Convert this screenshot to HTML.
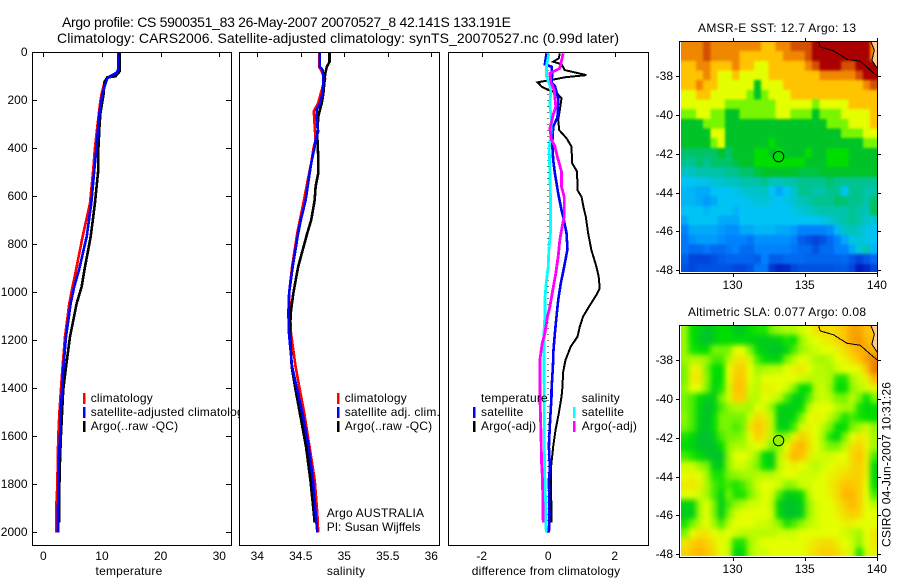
<!DOCTYPE html>
<html lang="en">
<head>
<meta charset="utf-8">
<title>Argo profile CS 5900351_83</title>
<style>
html,body{margin:0;padding:0;background:#fff;width:900px;height:580px;overflow:hidden}
svg{display:block}
text{font-family:"Liberation Sans",sans-serif;font-size:12px;fill:#000}
.frame{fill:none;stroke:#000;stroke-width:1;shape-rendering:crispEdges}
.bg{fill:#fff;stroke:none}
.tick{stroke:#000;stroke-width:1;shape-rendering:crispEdges}
.series{fill:none;shape-rendering:crispEdges;stroke-linejoin:miter}
.legend-text{letter-spacing:.2px}
</style>
</head>
<body>
<svg id="figure" xmlns="http://www.w3.org/2000/svg" width="900" height="580" viewBox="0 0 900 580">
<defs>
<filter id="soft-sst" filterUnits="userSpaceOnUse" x="670" y="30" width="220" height="530" color-interpolation-filters="sRGB">
<feGaussianBlur stdDeviation="1.3"/>
<feComponentTransfer><feFuncA type="linear" slope="30"/></feComponentTransfer>
</filter>
<filter id="soft-sla" filterUnits="userSpaceOnUse" x="670" y="315" width="220" height="255" color-interpolation-filters="sRGB">
<feGaussianBlur stdDeviation="2.6"/>
<feComponentTransfer><feFuncA type="linear" slope="30"/></feComponentTransfer>
</filter>
<clipPath id="clip-sst"><rect x="681" y="42" width="196" height="230"/></clipPath>
<clipPath id="clip-sla"><rect x="681" y="326" width="196" height="230"/></clipPath>
</defs>
<rect class="bg" width="900" height="580"/>
<text x="62" y="27" style="font-size:14px" textLength="449">Argo profile: CS 5900351_83 26-May-2007 20070527_8 42.141S 133.191E</text>
<text x="57" y="43" style="font-size:14px" textLength="562">Climatology: CARS2006. Satellite-adjusted climatology: synTS_20070527.nc (0.99d later)</text>
<g id="panel-temp"></g>
<g id="panel-sal"></g>
<g id="panel-diff"></g>
<g id="map-sst"></g>
<g id="map-sla"></g>
<text transform="translate(890.5,547) rotate(-90)" textLength="165">CSIRO 04-Jun-2007 10:31:26</text>
</svg>
<script>
// ---------- Tick labels ----------
var depthTicks = [0,200,400,600,800,1000,1200,1400,1600,1800,2000];
var tempTicks = [0,10,20,30];
var salTicks = [34,34.5,35,35.5,36];
var diffTicks = [-2,0,2];
var lonTicks = [130,135,140];
var latTicks = [-38,-40,-42,-44,-46,-48];

// ---------- Temperature panel series ----------
var tempClimDepth = [0,70,85,100,110,130,170,200,250,300,400,490,629,768,907,976,1046,1185,1324,1407,1500,1600,1700,1800,1900,2000];
var tempClimValues = [13,13,12.7,11.3,10.8,10.4,9.95,9.75,9.5,9.25,8.8,8.5,7.96,6.7,5.57,5.0,4.43,3.7,3.24,3.0,2.75,2.55,2.45,2.4,2.2,2.2];
var tempSatDepth = [0,70,85,100,110,130,170,200,250,300,400,490,629,768,907,976,1046,1185,1324,1407,1500,1600,1700,1800,1900,2000];
var tempSatValues = [12.8,12.8,12.5,11.4,10.9,10.6,10.1,9.9,9.6,9.4,9.05,8.7,8.18,7.4,6.08,5.29,4.67,3.87,3.4,3.2,2.95,2.85,2.65,2.55,2.5,2.5];
var tempArgoDepth = [0,80,100,105,125,170,200,250,300,400,490,629,768,907,976,1046,1185,1324,1407,1500,1600,1700,1800,1900,1960];
var tempArgoValues = [13,13,12.3,10.9,10.4,10.3,10.1,9.75,9.6,9.4,9.38,8.8,8.08,7.0,6.54,5.7,4.55,3.8,3.4,3.2,3.0,2.85,2.75,2.7,2.7];

// ---------- Salinity panel series ----------
var salClimDepth = [0,60,80,110,170,212,245,310,365,393,462,532,615,699,753,893,1004,1087,1171,1310,1407,1504,1643,1782,1921,2000];
var salClimValues = [34.71,34.71,34.74,34.78,34.73,34.7,34.65,34.66,34.67,34.65,34.62,34.58,34.537,34.49,34.46,34.4,34.365,34.376,34.387,34.44,34.49,34.54,34.6,34.66,34.69,34.7];
var salSatDepth = [0,60,74,110,170,212,240,310,330,365,393,462,532,615,699,753,893,1004,1087,1171,1310,1407,1504,1643,1782,1921,2000];
var salSatValues = [34.72,34.72,34.75,34.76,34.75,34.72,34.68,34.69,34.7,34.67,34.66,34.62,34.59,34.556,34.5,34.47,34.407,34.365,34.357,34.364,34.4,34.46,34.52,34.59,34.64,34.67,34.69];
var salArgoDepth = [0,40,60,88,130,170,212,268,352,435,505,560,615,699,753,893,1004,1087,1171,1310,1407,1504,1643,1782,1921,1960];
var salArgoValues = [34.83,34.83,34.8,34.78,34.77,34.76,34.74,34.7,34.69,34.7,34.7,34.67,34.66,34.62,34.575,34.47,34.414,34.384,34.376,34.395,34.44,34.49,34.56,34.61,34.65,34.66];

// ---------- Difference panel series ----------
var diffTempArgoDepth = [4,25,39,50,74,95,104,115,125,143,157,168,192,240,282,324,358,393,462,497,574,602,657,685,753,824,893,935,983,1011,1066,1101,1143,1185,1226,1282,1331,1407,1435,1504,1574,1643,1733,1960];
var diffTempArgoValues = [0.35,0.32,0.15,0.4,0.5,1.15,0.5,0.1,-0.32,-0.2,0,0.25,0.4,0.35,0.3,0.33,0.55,0.7,0.72,0.87,0.88,1.0,1.08,1.13,1.2,1.3,1.45,1.52,1.55,1.45,1.2,1.05,0.95,0.88,0.68,0.52,0.45,0.42,0.4,0.32,0.22,0.15,0.08,0.1];
var diffTempSatDepth = [4,50,60,95,125,140,192,270,310,380,450,504,588,657,685,753,820,893,962,1032,1101,1170,1240,1310,1407,1435,1550,1643,1733,1782,1921,2000];
var diffTempSatValues = [-0.05,-0.1,0.1,0.12,0.1,0.2,0.3,0.28,0.15,0.12,0.15,0.2,0.3,0.4,0.45,0.55,0.58,0.48,0.38,0.3,0.25,0.2,0.16,0.14,0.1,0.1,0.05,0.02,0.05,0.02,0.04,0.02];
var diffSalSatDepth = [4,55,100,150,220,290,340,400,504,615,685,753,820,893,962,1032,1101,1170,1240,1407,1504,1643,1782,1921,2000];
var diffSalSatValues = [0.02,-0.05,-0.05,0.08,0.05,0.1,0.08,0.03,0.05,0.07,0.07,0.07,0.02,0,-0.06,-0.1,-0.1,-0.13,-0.13,-0.12,-0.12,-0.12,-0.1,-0.07,-0.06];
var diffSalArgoDepth = [4,67,87,125,157,226,260,316,365,393,448,497,560,602,685,725,782,851,921,1004,1060,1101,1170,1212,1282,1407,1435,1574,1713,1782,1960];
var diffSalArgoValues = [0.45,0.35,0.05,0.08,0.18,0.23,0.15,0.05,0.1,0.2,0.3,0.4,0.4,0.48,0.48,0.42,0.35,0.3,0.23,0.12,0.05,-0.02,-0.1,-0.18,-0.25,-0.25,-0.25,-0.22,-0.2,-0.17,-0.15];

// ---------- Map grids: colour-scale index per grid cell, north to south ----------
var sstGrid = [
[9,9,9,10,9,9,9,9,9,9,9,8,8,9,9,10,10,10,11,11,11,11,11,11,11,11,9],
[9,9,9,10,9,9,9,9,8,8,8,8,8,8,9,9,9,10,11,11,11,11,11,11,11,11,9],
[8,8,9,9,8,8,8,9,8,8,7,7,8,8,8,8,8,9,10,11,11,11,10,10,11,11,11],
[8,8,8,9,8,7,7,8,7,7,7,7,8,8,8,8,8,8,8,9,9,9,9,9,10,11,11],
[8,8,9,8,8,7,7,7,7,7,5,7,7,7,8,8,8,8,8,8,8,8,8,8,8,9,10],
[7,7,8,8,7,7,7,7,7,6,5,6,7,7,7,8,8,8,8,8,8,8,8,8,8,8,8],
[7,7,7,7,7,7,6,6,6,6,6,6,6,7,7,7,7,7,6,7,7,7,7,8,8,8,8],
[6,6,7,7,6,6,5,5,6,6,6,6,6,7,7,6,6,6,5,6,6,6,7,7,7,7,8],
[5,5,5,6,6,6,5,5,5,5,5,5,5,5,5,5,5,5,5,5,6,6,6,7,7,7,8],
[5,5,5,5,7,7,5,5,5,5,5,5,5,5,5,5,5,5,5,5,5,5,6,6,6,7,7],
[5,5,5,5,6,7,5,5,5,5,5,5,5.5,5,5,5,5,5,5,5,5,5,5,5,5,6,6],
[4.5,4.5,4.5,4.5,4.5,5,4.5,5,5,5,5.5,5.5,5,5.5,5,5,5,5.5,5,5,5.5,5.5,5.5,5,5,5,5],
[4.2,4.2,4.5,4.2,4.5,4.5,4.5,4.8,5,5,5.5,5.5,5.5,5.5,5.5,5.5,5.5,5,5,5,5.5,5.5,5.5,5,5,5,5],
[3.7,3.7,4,4,4,4,4.2,4.2,4.5,4.5,4.8,5,5,5,5,5,4.8,4.8,4.8,5,5,5,5,5,5,5,5],
[3,3,3.2,3.2,3.5,3.5,3.7,3.7,4,4,4,4.2,3.8,3.8,4,4,4.2,4.2,4.2,4.2,4.5,4.2,4.2,4.2,4.2,4.2,4.2],
[2.8,2.8,2.6,2.6,3,3,3,3.2,3.4,3.6,3.6,3.6,3,2.6,3,3.5,4.2,4.2,4,4,4.2,4.2,3,4.2,4.2,4,4],
[2.8,2.8,2.6,2.4,2.6,3,3,3,3,3.2,3.4,3.4,3.2,3,3.2,3.5,3.8,4,4.2,4.2,4.2,4.5,4.4,4.2,4.2,4,4.5],
[3,3,3,2.8,3,3,3,2.8,3,3,3,3,3,3,3,3.2,3.4,3.6,3.8,4,4,4,4,4.2,4,3.8,4.6],
[2.6,3,3,3,3,2.6,2.6,2.6,3,3,3,3,3,3,3,3,3,3,3,3.2,3.4,3.8,4,4.2,4,3.6,3.4],
[2,2.6,2.6,2.6,2.6,2.4,2.2,2.2,2.6,2.6,2.8,2.8,2.8,2.6,2.6,2.4,2,2,2,2,2.2,2.8,3.6,3.8,3.6,3.2,3],
[1.8,2.2,2.4,2.4,2.4,2.2,2,2,2,1.8,2.2,2.2,2.2,2.2,2.2,2,1.4,1.2,1,1.2,1.6,2,2.6,3.2,3.4,3.2,3],
[1.8,1.6,1.6,1.8,1.6,1.6,1.8,2,1.6,1.6,2,2,2,2,2,1.8,1.6,1.6,1.2,1.6,1.6,2,2,2.6,3.4,3.8,2.8],
[1.4,1,1,1,1.2,1.4,1.5,1.5,1.5,1.5,1.4,2,1.4,1.4,1.6,1.6,1.6,1.5,1.5,1.5,1.5,1.5,1.6,1.3,1,1.3,1.6],
[1.2,1,1.2,1.2,1.2,1.2,1.2,1,1,1.2,1.8,1.8,0.8,0.5,0.6,1,1.2,1.2,1.2,1.2,1.2,1.3,1.3,1,0.4,0.6,1]
];
var slaGrid = [
[6.3,5.5,5.3,5,5.2,5.5,5.5,5.1,5.1,5.5,5.6,5.6,6,6.3,6.5,6.5,6.8,7,7.5,7.7,7.5,7.7,8,8.5,8.5,8,8],
[6.3,5.5,5.2,4.9,5.2,5.5,5.5,5.4,5.4,5.3,5.2,5.2,5.2,5.3,5.6,5.5,6.3,6.8,7,7.2,7.4,7.7,8,8.5,8.7,8.2,8],
[6.3,5.6,5.5,5.5,6,6,6,7,7,6,5.4,5.2,5,5,5.3,5.8,6.3,6.6,6.8,7,7,7.2,7.6,8,8.3,8.4,8.3],
[6.3,6.5,6.5,6.3,5.8,5.8,6.5,7.4,7.4,6.8,5.8,5.5,5.3,5.4,6,6.6,7,6.8,6.5,6.4,6.6,7,7.2,7.6,8,8.6,9],
[6,7.2,7.2,6,5.5,5.5,7,7.7,7.8,7,6.3,6.5,6.6,6.6,7,7.2,7.4,7,6.6,6.6,6.4,6.8,7,7,7.2,8,9.2],
[6,7.3,7.4,6.2,5.4,5.5,7,7.9,7.9,7,6.6,7,7,7,7,7,6.8,6.6,6.6,6.6,6.5,5.6,5.6,6.4,6.8,7.2,8.2],
[6.2,7,7,6,5.3,5.6,6.8,8,8,6.8,6.6,7.2,7.2,7,6.8,6,5.5,5.5,6.6,6.8,6.3,5.5,5.5,6.2,6.6,6.8,7.2],
[6,5.8,5.5,5.2,5.2,6,6.8,7.8,7.8,6.6,6.6,7,6.8,6.6,5.8,5.3,5.2,5.8,6.6,6.8,6.6,6,6,6.6,6,5.5,6],
[6,5.8,5.3,5,5.2,5.8,6.2,6.5,6.5,6.4,7,6.8,6.2,5.4,5.2,5.2,5.5,6.5,7,7,7,6.6,6.4,6.4,5.6,5.3,5.5],
[6.2,5.8,5.3,5,5.4,6,6,6,6,6.8,7.6,7.4,6.6,5.2,5.2,5.4,6,7,7.2,7,6.6,6,5.6,5.8,5.6,5.5,5.5],
[6,5.8,5.2,5,5.5,6,6,5.8,6,7.4,8,7.6,6.6,5.3,5.3,5.8,6.8,7.2,7,6.6,6,5.5,5.5,6,6.4,6.8,6.2],
[5.6,5.4,5,4.9,5.2,5.8,6,6,6.2,7,7.8,7.4,6.5,6,6.3,7.2,7.8,7.4,7,6.4,5.6,5.3,6,7,7.4,7.2,6.4],
[5.5,5.3,5,5,5,5.5,6.2,6.5,6.5,6.8,7,6.8,6,6.2,7,8,8.2,7.6,7,6.5,6,6,6.6,7.5,7.7,7.2,6.4],
[5.8,5.6,5.4,5.2,5,5,6.2,7,7,6.8,6.2,5.4,5.2,6.6,7.4,8.2,8,7.4,6.8,6.8,6.8,7,7,7.6,8,7.3,5.8],
[6.8,6.8,6.3,6,5.2,5.2,6.2,6.8,6.8,6.5,6,5.5,5.3,6.6,7,7.3,7,6.8,6.6,6.8,7,7.2,7.2,7.6,7.8,7.3,5.4],
[7,7.2,7,6.4,5.6,5.6,6,6.2,6.4,6.4,6.6,6.6,6.6,6.8,7,7,6.8,6.8,6.8,7,7.2,7.4,7.6,7.7,7.8,7.2,5.4],
[7.3,7.4,7.2,6.5,5.8,5.6,5.8,5.6,5.8,6.2,6.8,7,7,6.8,6.2,6.2,6.8,6.8,7,7,7.3,7.6,8,8,7.8,7,5.5],
[7,7,6.8,6.4,5.8,5.3,6,5.6,5.6,6,6.6,7,6.8,5.8,5.2,5.2,5.5,6.5,7,7,7.2,7.6,8.2,8.2,7.8,7,5.8],
[5.3,5.3,6.4,7,6,5.2,5.8,6.2,6.5,6.8,6.8,7,6.6,5.3,5,5,5.2,6.2,6.8,7,7,7.4,7.8,8.2,7.8,7,6.6],
[5.2,5.2,6.4,7,6,5.2,6,6.8,7,7,7,7,6.8,5.4,5,5,5.2,6.2,6.8,7,7,7.2,7.6,7.8,7.6,7,7],
[5.6,6,6.6,7,6.4,5.8,6.6,7,7,7,6.8,6.8,6.6,6.2,5.6,5.8,6.2,6.6,6.8,7,7,7,7.2,7.2,7,7,7],
[6,7,7.4,7.4,7,6.8,7,6.8,6.6,6.6,6.6,6.6,6.6,6.8,6.8,6.8,7,7,7,7,7,7,6.8,6.6,6.4,7,7.4],
[7.4,7.8,8,7.8,7.4,7,6.8,5.6,5.6,6.4,6.8,7,7,7,7,7,7,7.2,7.4,7.6,7.6,7.3,7,6.8,6.2,7,7.4],
[7.7,8,8.2,8,7.6,7,6.8,5.3,5.4,6.4,6.8,6.8,7,7,7,7,7,7.3,7.6,7.8,7.8,7.6,7.2,6.8,5.6,6.8,7.2]
];

// ---------- Coastlines (longitude / latitude) ----------
var coastALon = [135.96,136.07,136.99,137.92,138.85,139.54,140.04];
var coastALat = [-36.21,-36.49,-36.69,-37.12,-37.23,-37.69,-38.0];
var coastBLon = [139.58,139.82,139.65,140.04];
var coastBLat = [-36.21,-36.66,-37.18,-37.6];
var floatLon = 133.191;
var floatLat = -42.141;

// ---------- Helpers ----------
var NS = 'http://www.w3.org/2000/svg';
function make(tag, props, parent, txt){
  var n = document.createElementNS(NS, tag);
  for (var k in props) n.setAttribute(k, props[k]);
  if (txt !== undefined) n.textContent = txt;
  parent.appendChild(n);
  return n;
}
function linear(d0, d1, r0, r1){
  return function(v){ return r0 + (v - d0) * (r1 - r0) / (d1 - d0); };
}
var depthY = linear(0, 2000, 52.3, 532.3);

function seriesLine(parent, xs, depths, values, colour, width, name){
  var pts = values.map(function(v, i){ return xs(v).toFixed(1) + ',' + depthY(depths[i]).toFixed(1); }).join(' ');
  var n = make('polyline', {'class':'series', points:pts, stroke:colour, 'stroke-width':width}, parent);
  
  
}
function panelBase(parent, x, w, xs, ticks, title, titleX, prefix){
  var bg = make('rect', {'class':'bg', x:x, y:52, width:w, height:493}, parent);
  
  
  ticks.forEach(function(t){
    var px = Math.round(xs(t));
    var tk = make('line', {'class':'tick', x1:px+0.5, x2:px+0.5, y1:52, y2:57}, parent);
    
    
    var lb = make('text', {x:xs(t), y:560, 'text-anchor':'middle'}, parent, String(t));
    
    
  });
  var at = make('text', {x:titleX, y:575, 'text-anchor':'middle', 'class':'legend-text'}, parent, title);
  
  
}
function panelFrame(parent, x, w, prefix){
  var f = make('rect', {'class':'frame', x:x+0.5, y:52.5, width:w, height:493}, parent);
  
  
}
function legendRow(parent, handleX, textX, baseY, colour, label, prefix){
  if (colour) {
    var h = make('rect', {x:handleX, y:baseY-9, width:2.6, height:11, fill:colour, 'shape-rendering':'crispEdges'}, parent);
    
    
  }
  var t = make('text', {x:textX, y:baseY, 'class':'legend-text'}, parent, label);
  
  
}

// ---------- Temperature panel ----------
var pT = document.getElementById('panel-temp');
var xT = linear(0, 30, 43.3, 219.3);
panelBase(pT, 32, 199, xT, tempTicks, 'temperature', 129, 'temperature');
depthTicks.forEach(function(d){
  var y = Math.round(depthY(d)) + 0.5;
  var a = make('line', {'class':'tick', x1:32, x2:37, y1:y, y2:y}, pT);
  
  
  var b = make('line', {'class':'tick', x1:226, x2:231, y1:y, y2:y}, pT);
  
  
  var l = make('text', {x:27.5, y:y+3.5, 'text-anchor':'end'}, pT, String(d));
  
  
});
seriesLine(pT, xT, tempClimDepth, tempClimValues, '#ff0000', 2.6, 'temperature-climatology-line');
seriesLine(pT, xT, tempArgoDepth, tempArgoValues, '#000000', 2.6, 'temperature-argo-line');
seriesLine(pT, xT, tempSatDepth, tempSatValues, '#0000ff', 2.6, 'temperature-satellite-line');
panelFrame(pT, 32, 199, 'temperature');
legendRow(pT, 83, 90.7, 402, '#ff0000', 'climatology', 'temperature');
legendRow(pT, 83, 90.7, 416, '#0000ff', 'satellite-adjusted climatology', 'temperature');
legendRow(pT, 83, 90.7, 430, '#000000', 'Argo(..raw -QC)', 'temperature');

// ---------- Salinity panel ----------
var pS = document.getElementById('panel-sal');
var xS = linear(34, 36, 257.3, 431.3);
panelBase(pS, 239.5, 199.5, xS, salTicks, 'salinity', 346, 'salinity');
seriesLine(pS, xS, salClimDepth, salClimValues, '#ff0000', 2.6, 'salinity-climatology-line');
seriesLine(pS, xS, salArgoDepth, salArgoValues, '#000000', 2.6, 'salinity-argo-line');
seriesLine(pS, xS, salSatDepth, salSatValues, '#0000ff', 2.6, 'salinity-satellite-line');
panelFrame(pS, 239, 200, 'salinity');
legendRow(pS, 337, 344.7, 402, '#ff0000', 'climatology', 'salinity');
legendRow(pS, 337, 344.7, 416, '#0000ff', 'satellite adj. clim.', 'salinity');
legendRow(pS, 337, 344.7, 430, '#000000', 'Argo(..raw -QC)', 'salinity');
var an1 = make('text', {x:326.7, y:517, 'class':'legend-text'}, pS, 'Argo AUSTRALIA');


var an2 = make('text', {x:326.7, y:531}, pS, 'PI: Susan Wijffels');



// ---------- Difference panel ----------
var pD = document.getElementById('panel-diff');
var xD = linear(-2, 2, 481.7, 614.7);
panelBase(pD, 448, 200, xD, diffTicks, 'difference from climatology', 546, 'difference');
var zero = make('line', {x1:xD(0), x2:xD(0), y1:52, y2:537, stroke:'#000', 'stroke-width':1, 'stroke-dasharray':'1 5', 'shape-rendering':'crispEdges'}, pD);


seriesLine(pD, xD, diffTempArgoDepth, diffTempArgoValues, '#000000', 2, 'difference-temperature-argo-line');
seriesLine(pD, xD, diffTempSatDepth, diffTempSatValues, '#0000ff', 2.6, 'difference-temperature-satellite-line');
seriesLine(pD, xD, diffSalSatDepth, diffSalSatValues, '#00ffff', 2.8, 'difference-salinity-satellite-line');
seriesLine(pD, xD, diffSalArgoDepth, diffSalArgoValues, '#ff00ff', 2.8, 'difference-salinity-argo-line');
panelFrame(pD, 448, 200, 'difference');
legendRow(pD, 473, 481, 402, null, 'temperature', 'difference-temperature');
legendRow(pD, 473, 481, 416, '#0000ff', 'satellite', 'difference-temperature');
legendRow(pD, 473, 481, 430, '#000000', 'Argo(-adj)', 'difference-temperature');
legendRow(pD, 573, 581.7, 402, null, 'salinity', 'difference-salinity');
legendRow(pD, 573, 581.7, 416, '#00ffff', 'satellite', 'difference-salinity');
legendRow(pD, 573, 581.7, 430, '#ff00ff', 'Argo(-adj)', 'difference-salinity');

// ---------- Maps ----------
var cmapPositions = [0,1,2,3,4,5,5.5,6,7,8,9,10,11];
var cmapColours = [[0,0,170],[0,70,220],[0,130,255],[0,195,245],[0,195,170],[0,195,40],[0,222,0],[120,245,0],[228,255,0],[255,195,0],[240,135,0],[210,80,0],[170,0,0]];
function colour(v){
  var i = 0;
  while (i < cmapPositions.length - 2 && v > cmapPositions[i + 1]) i++;
  var f = Math.max(0, Math.min(1, (v - cmapPositions[i]) / (cmapPositions[i + 1] - cmapPositions[i])));
  var a = cmapColours[i], b = cmapColours[i + 1];
  return 'rgb(' + Math.round(a[0]+(b[0]-a[0])*f) + ',' + Math.round(a[1]+(b[1]-a[1])*f) + ',' + Math.round(a[2]+(b[2]-a[2])*f) + ')';
}
var LON0 = 126.33, LON1 = 140.04, LATN = -36.21, LATS = -48.17, IMGLON0 = 126.45;

function drawMap(parent, top, grid, title, titleY, titleLen, prefix, floatFill){
  var lonX = linear(LON0, LON1, 679.5, 877.5);
  var latY = linear(LATN, LATS, top + 0.5, top + 232.5);
  var rows = grid.length;
  var cols = grid[0].length;
  var dLon = (LON1 - IMGLON0) / cols;
  var dLat = (LATN - LATS) / rows;
  var clipG = make('g', {'clip-path':'url(#clip-' + prefix + ')'}, parent);
  
  
  var cellG = make('g', {filter:'url(#soft-' + prefix + ')'}, clipG);
  
  
  grid.forEach(function(row, r){
    row.forEach(function(v, c){
      var x0 = lonX(IMGLON0 + c * dLon), x1 = lonX(IMGLON0 + (c + 1) * dLon);
      var y0 = latY(LATN - r * dLat), y1 = latY(LATN - (r + 1) * dLat);
      var cell = make('rect', {x:x0.toFixed(2), y:y0.toFixed(2), width:(x1-x0+0.4).toFixed(2), height:(y1-y0+0.4).toFixed(2), fill:colour(v), 'shape-rendering':'crispEdges'}, cellG);
      
      
    });
  });
  var landPts = coastBLon.map(function(lo, i){ return lonX(lo).toFixed(1) + ',' + latY(coastBLat[i]).toFixed(1); });
  landPts.push(lonX(LON1).toFixed(1) + ',' + latY(LATN).toFixed(1));
  var land = make('polygon', {points:landPts.join(' '), fill:'#ffc88c', 'shape-rendering':'crispEdges'}, parent);
  
  
  [[coastALon, coastALat], [coastBLon, coastBLat]].forEach(function(cst){
    var pts = cst[0].map(function(lo, i){ return lonX(lo).toFixed(1) + ',' + latY(cst[1][i]).toFixed(1); }).join(' ');
    var ln = make('polyline', {points:pts, fill:'none', stroke:'#000', 'stroke-width':1, 'shape-rendering':'crispEdges'}, parent);
    
    
  });
  var mark = make('circle', {cx:lonX(floatLon), cy:latY(floatLat), r:5.2, fill:floatFill, stroke:'#000', 'stroke-width':1}, parent);
  
  
  var fr = make('rect', {'class':'frame', x:679.5, y:top+0.5, width:198, height:232}, parent);
  
  
  lonTicks.forEach(function(t){
    var px = Math.round(lonX(t)) + 0.5;
    var a = make('line', {'class':'tick', x1:px, x2:px, y1:top-3, y2:top}, parent);
    
    
    var b = make('line', {'class':'tick', x1:px, x2:px, y1:top+233, y2:top+236}, parent);
    
    
    var l = make('text', {x:lonX(t), y:top+248, 'text-anchor':'middle'}, parent, String(t));
    
    
  });
  latTicks.forEach(function(t){
    var py = Math.round(latY(t)) + 0.5;
    var a = make('line', {'class':'tick', x1:676, x2:679, y1:py, y2:py}, parent);
    
    
    var b = make('line', {'class':'tick', x1:878, x2:881, y1:py, y2:py}, parent);
    
    
    var l = make('text', {x:673, y:py+3.5, 'text-anchor':'end'}, parent, String(t));
    
    
  });
  var tt = make('text', {x:777, y:titleY, 'text-anchor':'middle', textLength:titleLen}, parent, title);
  
  
}
drawMap(document.getElementById('map-sst'), 41, sstGrid, 'AMSR-E SST: 12.7 Argo: 13', 32, 158, 'sst', 'none');
drawMap(document.getElementById('map-sla'), 325, slaGrid, 'Altimetric SLA: 0.077 Argo: 0.08', 316, 178, 'sla', '#96f000');
</script>
</body>
</html>
